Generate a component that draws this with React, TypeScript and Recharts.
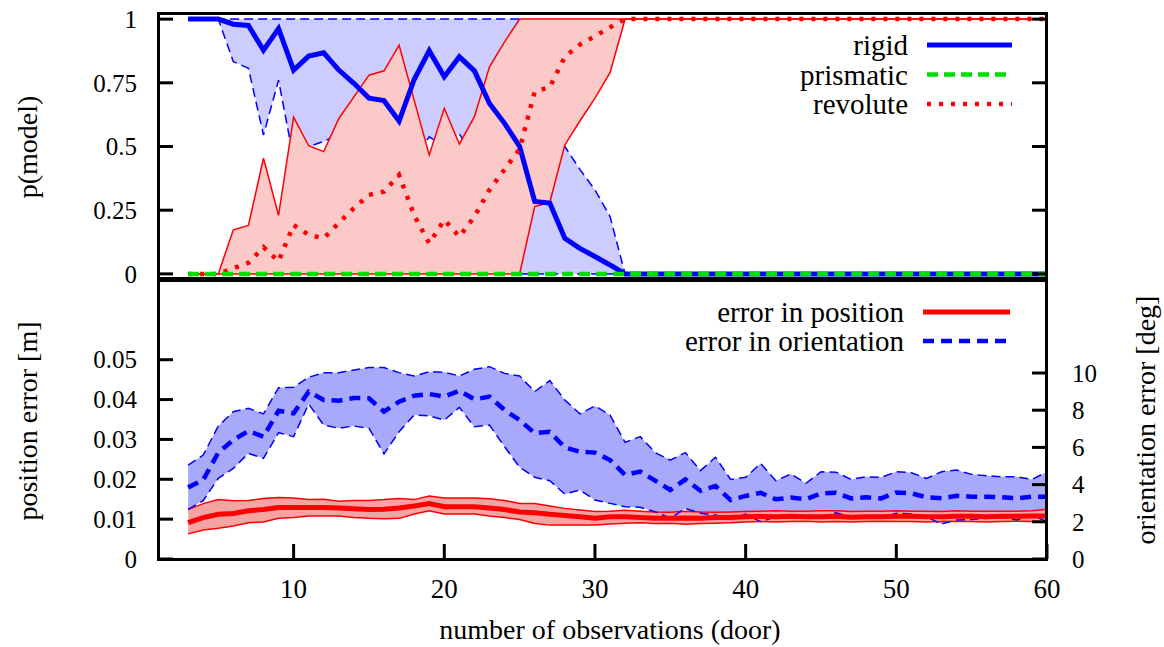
import { ComposedChart, Area, Line, XAxis, YAxis, Legend } from 'recharts'

const FONT = 'Liberation Serif, Tinos, Times New Roman, DejaVu Serif, serif'

// plot frame edges, shared by both panels
const PLOT_L = 158
const PLOT_R = 1047
const PLOT_TOP = 13
const PLOT_MID = 280
const PLOT_BOTTOM = 559
const TICK = 15

const BLUE = '#0000ff'
const RED = '#ff0000'
const GREEN = '#00dd00'

// number of observations
const obs = [
  3, 4, 5, 6, 7, 8, 9, 10, 11, 12, 13, 14, 15, 16, 17, 18, 19, 20, 21, 22, 23, 24, 25, 26, 27, 28, 29, 30,
  31, 32, 33, 34, 35, 36, 37, 38, 39, 40, 41, 42, 43, 44, 45, 46, 47, 48, 49, 50,
  51, 52, 53, 54, 55, 56, 57, 58, 59, 60,
]

// p(model), mean and spread
const rigidMean = [
  1, 1, 1, 0.98, 0.975, 0.878, 0.963, 0.8, 0.855, 0.868, 0.8, 0.748, 0.69, 0.68, 0.6, 0.763, 0.876, 0.774,
  0.852, 0.797, 0.669, 0.591, 0.5, 0.284, 0.278, 0.14, 0.1, 0.068, 0.035, 0,
  0, 0, 0, 0, 0, 0, 0, 0, 0, 0, 0, 0, 0, 0, 0, 0, 0, 0, 0, 0, 0, 0, 0, 0, 0, 0, 0, 0,
]
const rigidHi = [
  1, 1, 1, 1, 1, 1, 1, 1, 1, 1, 1, 1, 1, 1, 1, 1, 1, 1, 1, 1, 1, 1, 1, 0.56, 0.54, 0.5, 0.41, 0.33, 0.225, 0,
  0, 0, 0, 0, 0, 0, 0, 0, 0, 0, 0, 0, 0, 0, 0, 0, 0, 0, 0, 0, 0, 0, 0, 0, 0, 0, 0, 0,
]
const rigidLo = [
  1, 1, 1, 0.833, 0.807, 0.545, 0.76, 0.45, 0.5, 0.52, 0.55, 0.48, 0.4, 0.38, 0.3, 0.45, 0.538, 0.5,
  0.55, 0.45, 0.3, 0.15, 0, 0, 0, 0, 0, 0, 0, 0,
  0, 0, 0, 0, 0, 0, 0, 0, 0, 0, 0, 0, 0, 0, 0, 0, 0, 0, 0, 0, 0, 0, 0, 0, 0, 0, 0, 0,
]
const prismaticMean = [
  0, 0, 0, 0, 0, 0, 0, 0, 0, 0, 0, 0, 0, 0, 0, 0, 0, 0, 0, 0, 0, 0, 0, 0, 0, 0, 0, 0, 0, 0,
  0, 0, 0, 0, 0, 0, 0, 0, 0, 0, 0, 0, 0, 0, 0, 0, 0, 0, 0, 0, 0, 0, 0, 0, 0, 0, 0, 0,
]
const revoluteMean = [
  0, 0, 0, 0.022, 0.043, 0.105, 0.05, 0.192, 0.153, 0.14, 0.2, 0.258, 0.31, 0.323, 0.388, 0.23, 0.12, 0.212,
  0.146, 0.225, 0.33, 0.41, 0.49, 0.715, 0.733, 0.852, 0.9, 0.933, 0.968, 1,
  1, 1, 1, 1, 1, 1, 1, 1, 1, 1, 1, 1, 1, 1, 1, 1, 1, 1, 1, 1, 1, 1, 1, 1, 1, 1, 1, 1,
]
const revoluteHi = [
  0, 0, 0, 0.173, 0.19, 0.454, 0.23, 0.615, 0.503, 0.48, 0.61, 0.695, 0.78, 0.797, 0.898, 0.682, 0.467, 0.65,
  0.51, 0.617, 0.813, 0.911, 1, 1, 1, 1, 1, 1, 1, 1,
  1, 1, 1, 1, 1, 1, 1, 1, 1, 1, 1, 1, 1, 1, 1, 1, 1, 1, 1, 1, 1, 1, 1, 1, 1, 1, 1, 1,
]
const revoluteLo = [
  0, 0, 0, 0, 0, 0, 0, 0, 0, 0, 0, 0, 0, 0, 0, 0, 0, 0, 0, 0, 0, 0, 0, 0.264, 0.28, 0.506, 0.6, 0.69, 0.79, 1,
  1, 1, 1, 1, 1, 1, 1, 1, 1, 1, 1, 1, 1, 1, 1, 1, 1, 1, 1, 1, 1, 1, 1, 1, 1, 1, 1, 1,
]

// position error [m]
const posMean = [
  0.0091, 0.0104, 0.0112, 0.0114, 0.0121, 0.0124, 0.0129, 0.0129, 0.0129, 0.0129, 0.0128, 0.0126, 0.0124, 0.0125,
  0.0128, 0.0133, 0.0139, 0.0131, 0.0131, 0.0131, 0.0128, 0.0124, 0.0118, 0.0116, 0.0112, 0.0109, 0.0106, 0.0102,
  0.0106, 0.0106, 0.0104, 0.0102, 0.0102, 0.0103, 0.0102, 0.0104, 0.0104, 0.0106,
  0.0107, 0.0106, 0.0107, 0.0106, 0.0106, 0.0107, 0.0105, 0.0106, 0.0106, 0.0107,
  0.0107, 0.0106, 0.0106, 0.0107, 0.0107, 0.0106, 0.0107, 0.0107, 0.0108, 0.0108,
]
const posHi = [
  0.0124, 0.0139, 0.0149, 0.0146, 0.0147, 0.0152, 0.0154, 0.0153, 0.0149, 0.015, 0.0145, 0.0147, 0.0147, 0.0149,
  0.0152, 0.0149, 0.0158, 0.0153, 0.0153, 0.0153, 0.0151, 0.0147, 0.0139, 0.0139, 0.0133, 0.0127, 0.0123, 0.0119,
  0.012, 0.0122, 0.012, 0.0118, 0.0117, 0.012, 0.0118, 0.0117, 0.0118, 0.0119,
  0.012, 0.0121, 0.012, 0.012, 0.0121, 0.0121, 0.0119, 0.012, 0.012, 0.0121,
  0.012, 0.012, 0.0119, 0.0121, 0.012, 0.012, 0.012, 0.012, 0.0121, 0.0125,
]
const posLo = [
  0.0063, 0.0073, 0.0077, 0.0083, 0.0091, 0.0093, 0.0102, 0.0104, 0.0108, 0.0108, 0.0108, 0.0104, 0.0102, 0.0101,
  0.0102, 0.0113, 0.0121, 0.0113, 0.0113, 0.0113, 0.0108, 0.0104, 0.0099, 0.0089, 0.0085, 0.0085, 0.0085, 0.0085,
  0.0088, 0.009, 0.0091, 0.0089, 0.009, 0.0087, 0.0089, 0.009, 0.0091, 0.0093,
  0.0094, 0.0093, 0.0094, 0.0095, 0.0093, 0.0094, 0.0093, 0.0094, 0.0095, 0.0094,
  0.0094, 0.0093, 0.0094, 0.0095, 0.0094, 0.0093, 0.0094, 0.0095, 0.0094, 0.0093,
]

// orientation error [deg]
const oriMean = [
  3.85, 4.25, 5.72, 6.4, 6.88, 6.58, 7.97, 7.83, 9.0, 8.55, 8.51, 8.66, 8.64, 7.92, 8.46, 8.78, 8.87, 8.73,
  9.05, 8.58, 8.73, 8.01, 7.47, 6.76, 6.84, 6.0, 5.77, 5.72,
  5.32, 4.52, 4.7, 4.21, 3.71, 4.28, 3.67, 3.92, 3.17, 3.39,
  3.56, 3.21, 3.3, 3.21, 3.53, 3.56, 3.26, 3.32, 3.26, 3.58,
  3.53, 3.32, 3.26, 3.4, 3.35, 3.35, 3.32, 3.26, 3.35, 3.35,
]
const oriHi = [
  5.05, 5.59, 7.15, 7.92, 8.1, 7.8, 9.21, 9.23, 9.77, 10.02, 10.02, 10.16, 10.29, 10.29, 10.02, 9.84, 10.07, 10.04,
  9.84, 10.2, 10.34, 9.98, 9.84, 9.0, 9.59, 8.55, 7.8, 8.23,
  7.74, 6.27, 6.58, 5.72, 5.32, 5.72, 4.75, 5.47, 4.28, 4.39,
  5.14, 4.21, 4.57, 4.07, 4.69, 4.66, 4.28, 4.42, 4.39, 4.69,
  4.64, 4.33, 4.69, 4.78, 4.55, 4.48, 4.42, 4.42, 4.28, 4.69,
]
const oriLo = [
  2.67, 3.14, 4.34, 4.87, 5.68, 5.41, 6.79, 6.58, 8.33, 7.2, 7.03, 7.15, 7.03, 5.65, 6.84, 7.74, 7.7, 7.47,
  8.15, 7.11, 7.2, 6.04, 4.93, 4.39, 4.21, 3.49, 3.71, 3.17,
  2.99, 2.81, 2.78, 2.54, 2.19, 2.72, 2.46, 2.37, 2.13, 2.42,
  2.0, 2.27, 2.19, 2.37, 2.27, 2.49, 2.24, 2.27, 2.19, 2.46,
  2.42, 2.27, 1.88, 2.1, 2.13, 2.19, 2.24, 2.1, 2.37, 2.0,
]

const xTicks = [10, 20, 30, 40, 50, 60]
const probTicks = [0, 0.25, 0.5, 0.75, 1]
const posTicks = [0, 0.01, 0.02, 0.03, 0.04, 0.05]
const degTicks = [0, 2, 4, 6, 8, 10]

const modelRows = obs.map((x, i) => ({
  x,
  rigid: rigidMean[i],
  rigidBand: [rigidLo[i], rigidHi[i]],
  prismatic: prismaticMean[i],
  revolute: revoluteMean[i],
  revoluteBand: [revoluteLo[i], revoluteHi[i]],
}))

const errorRows = obs.map((x, i) => ({
  x,
  pos: posMean[i],
  posBand: [posLo[i], posHi[i]],
  ori: oriMean[i],
  oriHi: oriHi[i],
  oriLo: oriLo[i],
  oriBand: [oriLo[i], oriHi[i]],
}))

const modelLegend = [
  { name: 'rigid', color: BLUE, width: 5, dash: undefined },
  { name: 'prismatic', color: GREEN, width: 4.5, dash: '11 6' },
  { name: 'revolute', color: RED, width: 4.5, dash: '4 8' },
]
const errorLegend = [
  { name: 'error in position', color: RED, width: 5, dash: undefined },
  { name: 'error in orientation', color: BLUE, width: 4.5, dash: '11 7' },
]

const textStyle = { fontFamily: FONT }

function ProbTick({ y, payload }: any) {
  return (
    <g>
      <line x1={PLOT_L} x2={PLOT_L + TICK} y1={y} y2={y} stroke="#000" strokeWidth={3} />
      <line x1={PLOT_R - TICK} x2={PLOT_R} y1={y} y2={y} stroke="#000" strokeWidth={3} />
      <text x={PLOT_L - 21} y={y} dy="0.35em" textAnchor="end" fontSize={25} style={textStyle} fill="#000">
        {String(payload.value)}
      </text>
    </g>
  )
}

function PosTick({ y, payload }: any) {
  return (
    <g>
      <line x1={PLOT_L} x2={PLOT_L + TICK} y1={y} y2={y} stroke="#000" strokeWidth={3} />
      <text x={PLOT_L - 21} y={y} dy="0.35em" textAnchor="end" fontSize={25} style={textStyle} fill="#000">
        {String(payload.value)}
      </text>
    </g>
  )
}

function DegTick({ y, payload }: any) {
  return (
    <g>
      <line x1={PLOT_R - TICK} x2={PLOT_R} y1={y} y2={y} stroke="#000" strokeWidth={3} />
      <text x={PLOT_R + 25} y={y} dy="0.35em" textAnchor="start" fontSize={25} style={textStyle} fill="#000">
        {String(payload.value)}
      </text>
    </g>
  )
}

function ObsTick({ x, payload }: any) {
  return (
    <g>
      <line x1={x} x2={x} y1={PLOT_BOTTOM} y2={PLOT_BOTTOM - TICK} stroke="#000" strokeWidth={3} />
      <text x={x} y={598} textAnchor="middle" fontSize={27} style={textStyle} fill="#000">
        {String(payload.value)}
      </text>
    </g>
  )
}

// axis titles are placed by hand; rot = -90 reads bottom to top
function AxisTitle({ px, py, rot, text }: any) {
  return (
    <text
      transform={`translate(${px},${py}) rotate(${rot})`}
      textAnchor="middle"
      dy="0.35em"
      fontSize={28}
      style={textStyle}
      fill="#000"
    >
      {text}
    </text>
  )
}

function LegendBlock({ items, textRight, lineX1, lineX2, y0, step }: any) {
  return (
    <svg width={1164} height={647} style={{ position: 'absolute', left: 0, top: 0 }}>
      {items.map((it: any, i: number) => {
        const y = y0 + i * step
        return (
          <g key={it.name}>
            <text x={textRight} y={y} dy="0.35em" textAnchor="end" fontSize={29} style={textStyle} fill="#000">
              {it.name}
            </text>
            <line
              x1={lineX1}
              x2={lineX2}
              y1={y}
              y2={y}
              stroke={it.color}
              strokeWidth={it.width}
              strokeDasharray={it.dash}
            />
          </g>
        )
      })}
    </svg>
  )
}

const layer: any = { position: 'absolute', left: 0, top: 0 }

export default function App() {
  return (
    <div
      style={{
        position: 'absolute',
        left: 0,
        top: 0,
        width: 1164,
        height: 647,
        background: '#fff',
        overflow: 'hidden',
        fontFamily: FONT,
      }}
    >
      {/* upper panel: model probabilities */}
      <div style={layer}>
        <ComposedChart
          width={1164}
          height={647}
          data={modelRows}
          margin={{ top: PLOT_TOP, right: 1164 - PLOT_R, bottom: 647 - PLOT_MID, left: PLOT_L - 60 }}
        >
          <XAxis dataKey="x" type="number" domain={[1, 60]} hide />
          <YAxis
            width={60}
            type="number"
            domain={[-0.024, 1.024]}
            ticks={probTicks}
            interval={0}
            axisLine={false}
            tickLine={false}
            tick={<ProbTick />}
            label={<AxisTitle px={27} py={147} rot={-90} text="p(model)" />}
          />
          <Area
            type="linear"
            dataKey="rigidBand"
            fill="#ccccff"
            fillOpacity={1}
            stroke={BLUE}
            strokeWidth={1.5}
            strokeDasharray="9 5"
            isAnimationActive={false}
          />
          <Area
            type="linear"
            dataKey="revoluteBand"
            fill="#fcc9c9"
            fillOpacity={1}
            stroke={RED}
            strokeWidth={1.5}
            isAnimationActive={false}
          />
          <Line type="linear" dataKey="rigid" stroke={BLUE} strokeWidth={5} dot={false} isAnimationActive={false} />
          <Line
            type="linear"
            dataKey="revolute"
            stroke={RED}
            strokeWidth={4.5}
            strokeDasharray="4 8"
            dot={false}
            isAnimationActive={false}
          />
          <Line
            type="linear"
            dataKey="prismatic"
            stroke={GREEN}
            strokeWidth={4.5}
            strokeDasharray="11 6"
            dot={false}
            isAnimationActive={false}
          />
          <Legend
            layout="vertical"
            align="center"
            verticalAlign="middle"
            wrapperStyle={{ left: 0, top: 0, width: 1164, height: 647 }}
            content={() => (
              <LegendBlock items={modelLegend} textRight={908} lineX1={927} lineX2={1012} y0={45} step={29.5} />
            )}
          />
        </ComposedChart>
      </div>

      {/* lower panel: position and orientation error */}
      <div style={layer}>
        <ComposedChart
          width={1164}
          height={647}
          data={errorRows}
          margin={{ top: PLOT_MID, right: 1164 - PLOT_R - 60, bottom: 647 - PLOT_BOTTOM - 40, left: PLOT_L - 60 }}
        >
          <XAxis
            dataKey="x"
            type="number"
            domain={[1, 60]}
            ticks={xTicks}
            interval={0}
            height={40}
            axisLine={false}
            tickLine={false}
            tick={<ObsTick />}
            label={<AxisTitle px={610} py={629} rot={0} text="number of observations (door)" />}
          />
          <YAxis
            yAxisId="pos"
            width={60}
            type="number"
            domain={[0, 0.07]}
            ticks={posTicks}
            interval={0}
            axisLine={false}
            tickLine={false}
            tick={<PosTick />}
            label={<AxisTitle px={27} py={421} rot={-90} text="position error [m]" />}
          />
          <YAxis
            yAxisId="deg"
            orientation="right"
            width={60}
            type="number"
            domain={[0, 15]}
            ticks={degTicks}
            interval={0}
            axisLine={false}
            tickLine={false}
            tick={<DegTick />}
            label={<AxisTitle px={1145} py={420} rot={-90} text="orientation error [deg]" />}
          />
          <Area
            yAxisId="deg"
            type="linear"
            dataKey="oriBand"
            fill="#a9a9fb"
            fillOpacity={1}
            stroke="none"
            isAnimationActive={false}
          />
          <Area
            yAxisId="pos"
            type="linear"
            dataKey="posBand"
            fill="#f6a3a3"
            fillOpacity={1}
            stroke={RED}
            strokeWidth={1.5}
            isAnimationActive={false}
          />
          <Line
            yAxisId="deg"
            type="linear"
            dataKey="oriHi"
            stroke={BLUE}
            strokeWidth={1.5}
            strokeDasharray="9 5"
            dot={false}
            isAnimationActive={false}
          />
          <Line
            yAxisId="deg"
            type="linear"
            dataKey="oriLo"
            stroke={BLUE}
            strokeWidth={1.5}
            strokeDasharray="9 5"
            dot={false}
            isAnimationActive={false}
          />
          <Line yAxisId="pos" type="linear" dataKey="pos" stroke={RED} strokeWidth={5} dot={false} isAnimationActive={false} />
          <Line
            yAxisId="deg"
            type="linear"
            dataKey="ori"
            stroke={BLUE}
            strokeWidth={4.5}
            strokeDasharray="11 7"
            dot={false}
            isAnimationActive={false}
          />
          <Legend
            layout="vertical"
            align="center"
            verticalAlign="middle"
            wrapperStyle={{ left: 0, top: 0, width: 1164, height: 647 }}
            content={() => (
              <LegendBlock items={errorLegend} textRight={904} lineX1={923} lineX2={1010} y0={312} step={29} />
            )}
          />
        </ComposedChart>
      </div>

      {/* panel frames */}
      <div
        style={{
          position: 'absolute',
          left: PLOT_L - 1,
          top: PLOT_TOP - 1,
          width: PLOT_R - PLOT_L + 2,
          height: PLOT_MID - PLOT_TOP + 1,
          border: '3px solid #000',
          boxSizing: 'border-box',
          pointerEvents: 'none',
        }}
      />
      <div
        style={{
          position: 'absolute',
          left: PLOT_L - 1,
          top: PLOT_MID - 1,
          width: PLOT_R - PLOT_L + 2,
          height: PLOT_BOTTOM - PLOT_MID + 3,
          border: '3px solid #000',
          boxSizing: 'border-box',
          pointerEvents: 'none',
        }}
      />
    </div>
  )
}
